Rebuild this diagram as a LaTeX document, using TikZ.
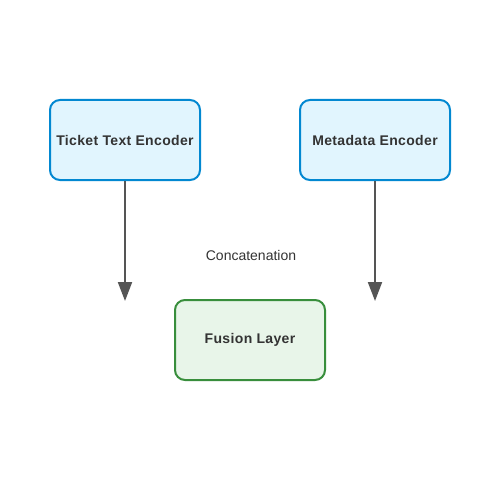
\documentclass[tikz,border=0pt]{standalone}
\usepackage{fontspec}
\setmainfont{Liberation Sans}
\newfontfamily\boxfont[LetterSpace=2.5]{Liberation Sans}
\usetikzlibrary{arrows.meta}
\definecolor{bluebd}{HTML}{0288D1}
\definecolor{bluefill}{HTML}{E1F5FE}
\definecolor{greenbd}{HTML}{388E3C}
\definecolor{greenfill}{HTML}{E8F5E9}
\definecolor{txt}{HTML}{333333}
\definecolor{arr}{HTML}{555555}
\tikzset{
  box/.style={rounded corners=10pt, line width=2pt, minimum width=150pt, minimum height=80pt, inner sep=0pt, text=txt, font=\boxfont\fontsize{14pt}{16pt}\selectfont\bfseries},
  encbox/.style={box, draw=bluebd, fill=bluefill},
  fusebox/.style={box, draw=greenbd, fill=greenfill},
  conn/.style={draw=arr, line width=2pt, -{Triangle[length=19pt,width=14pt]}},
  lbl/.style={text=txt, font=\fontsize{14pt}{16pt}\selectfont}
}
\begin{document}
\begin{tikzpicture}[x=1pt,y=-1pt]
\useasboundingbox (0,0) rectangle (500,500);
\fill[white] (0,0) rectangle (500,500);
\node[encbox] (tte) at (125,140) {Ticket Text Encoder};
\node[encbox] (meta) at (375,140) {Metadata Encoder};
\node[fusebox] (fuse) at (250,340) {Fusion Layer};
\coordinate (e1) at (125,301);
\coordinate (e2) at (375,301);
\draw[conn] (tte.south) -- (e1);
\draw[conn] (meta.south) -- (e2);
\node[lbl] (cat) at (251,255.5) {Concatenation};
\end{tikzpicture}
\end{document}
